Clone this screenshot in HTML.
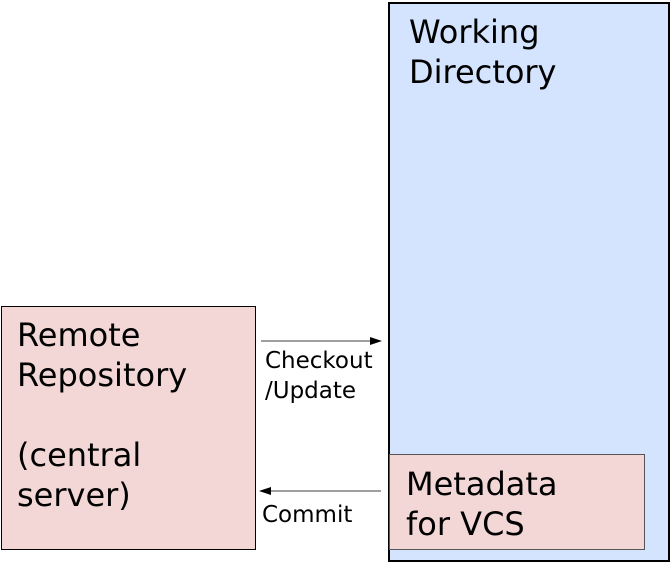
<!DOCTYPE html>
<html><head><style>
body{margin:0;width:672px;height:564px;background:#fff;position:relative;font-family:"DejaVu Sans",sans-serif;overflow:hidden}
div{position:absolute;box-sizing:border-box}
.big{font-size:32px;line-height:40px;color:#000}
.sm{font-size:23px;line-height:30px;color:#000}
</style></head><body>
<div style="left:388px;top:2px;width:282px;height:560px;background:#d4e3fe;border:2px solid #000"></div>
<div class="big" style="left:409px;top:12px">Working<br>Directory</div>
<div style="left:389px;top:454px;width:256px;height:96px;background:#f3d6d6;border:1px solid #555"></div>
<div class="big" style="left:406px;top:464px">Metadata<br>for VCS</div>
<div style="left:1px;top:306px;width:255px;height:244px;background:#f3d6d6;border:1px solid #000"></div>
<div class="big" style="left:17px;top:315px">Remote<br>Repository<br><br>(central<br>server)</div>
<svg style="position:absolute;left:0;top:0" width="672" height="564">
<line x1="261" y1="341" x2="372" y2="341" stroke="#666" stroke-width="1.3"/>
<polygon points="382,341 370,337 370,345" fill="#000"/>
<line x1="270" y1="491" x2="381" y2="491" stroke="#666" stroke-width="1.3"/>
<polygon points="259,491 271,487 271,495" fill="#000"/>
</svg>
<div class="sm" style="left:265px;top:346px">Checkout<br>/Update</div>
<div class="sm" style="left:262px;top:500px">Commit</div>
</body></html>
